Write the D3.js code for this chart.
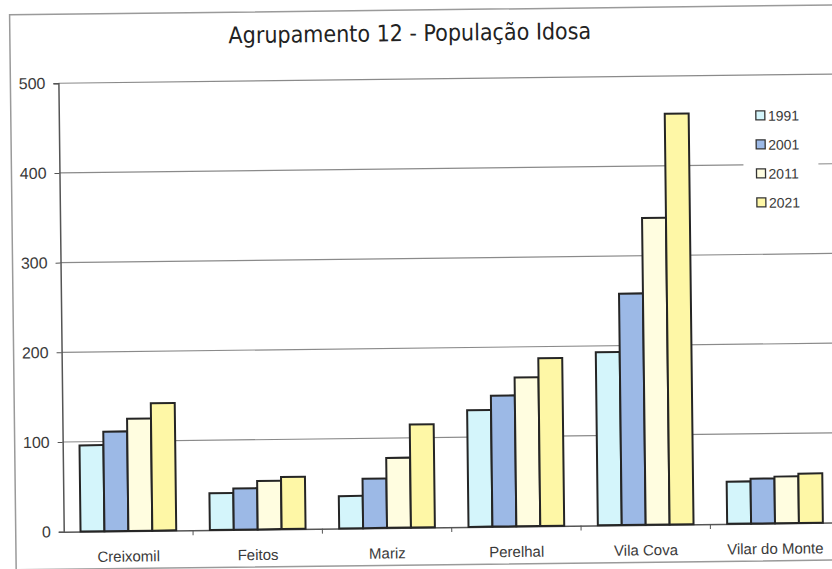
<!DOCTYPE html>
<html lang="pt">
<head>
<meta charset="UTF-8">
<title>Agrupamento 12 - População Idosa</title>
<script src="https://d3js.org/d3.v7.min.js"></script>
<style>
  body { margin: 0; padding: 0; background: #fff; }
  svg { display: block; }
  .grid line { stroke: #8a8a8a; stroke-width: 1.2px; }
  .bar { stroke: #252525; stroke-width: 2px; }
  .ylab, .xlab { font-family: "Liberation Sans", Arial, sans-serif; fill: #3a3a3a; }
</style>
</head>
<body>
<svg id="chart" width="832" height="569"></svg>
<script>
const categories = ["Creixomil", "Feitos", "Mariz", "Perelhal", "Vila Cova", "Vilar do Monte"];
const years = ["1991", "2001", "2011", "2021"];
const v1991 = [96, 41, 36, 130, 193, 47];
const v2001 = [111, 46, 55, 146, 258, 50];
const v2011 = [125, 54, 78, 166, 342, 52];
const v2021 = [142, 58, 115, 187, 458, 55];
const yTicks = [0, 100, 200, 300, 400, 500];
const colors = ["#d4f5fb", "#9cb9e6", "#fffde0", "#fef7a6"];

const series = [v1991, v2001, v2011, v2021];
const data = categories.map((c, i) => ({
  cat: c,
  values: years.map((y, j) => ({ year: y, value: series[j][i] }))
}));

const plot = { left: 61, right: 837, top: 79, bottom: 527.5 };

const svg = d3.select("#chart");
// the scan is slightly tilted
const g = svg.append("g").attr("transform", "rotate(-0.68, 416, 300)");

// outer chart border
g.append("rect")
  .attr("x", 13).attr("y", 10)
  .attr("width", 900).attr("height", 555)
  .attr("fill", "none")
  .attr("stroke", "#9a9a9a")
  .attr("stroke-width", 1.5);

g.append("text")
  .attr("x", 413).attr("y", 41)
  .attr("text-anchor", "middle")
  .style("font-family", "'DejaVu Sans Condensed', 'DejaVu Sans', sans-serif")
  .style("font-size", "23px")
  .style("fill", "#222")
  .text("Agrupamento 12 - População Idosa");

const y = d3.scaleLinear().domain([0, 500]).range([plot.bottom, plot.top]);
const x0 = d3.scaleBand().domain(categories).range([plot.left, plot.right]);
const bw = x0.bandwidth();
const x1 = d3.scaleBand().domain(years).range([bw * 0.13, bw * 0.87]);

// gridlines
g.append("g").attr("class", "grid")
  .selectAll("line")
  .data(yTicks.filter(d => d > 0))
  .join("line")
  .attr("x1", plot.left).attr("x2", 900)
  .attr("y1", d => y(d)).attr("y2", d => y(d));

// y axis
const yAxis = g.append("g")
  .attr("transform", `translate(${plot.left},0)`)
  .call(d3.axisLeft(y).tickValues(yTicks).tickSize(5).tickPadding(8));
yAxis.select(".domain").attr("stroke", "#555").attr("stroke-width", 1.5);
yAxis.selectAll(".tick line").attr("stroke", "#555");
yAxis.selectAll("text").attr("class", "ylab").style("font-size", "16px").attr("fill", "#3a3a3a");

// x axis
const xAxis = g.append("g")
  .attr("transform", `translate(0,${plot.bottom})`)
  .call(d3.axisBottom(x0).tickSize(0).tickPadding(20));
xAxis.select(".domain").attr("stroke", "#555").attr("stroke-width", 1.5);
xAxis.selectAll("text").attr("class", "xlab").style("font-size", "15px").attr("fill", "#3a3a3a");
xAxis.selectAll(".sep")
  .data(categories.slice(1))
  .join("line")
  .attr("class", "sep")
  .attr("x1", d => x0(d)).attr("x2", d => x0(d))
  .attr("y1", 0).attr("y2", 5)
  .attr("stroke", "#555");

// bars
g.append("g")
  .selectAll("g")
  .data(data)
  .join("g")
  .attr("transform", d => `translate(${x0(d.cat)},0)`)
  .selectAll("rect")
  .data(d => d.values)
  .join("rect")
  .attr("class", "bar")
  .attr("x", d => x1(d.year))
  .attr("y", d => y(d.value))
  .attr("width", x1.bandwidth())
  .attr("height", d => y(0) - y(d.value))
  .attr("fill", (d, i) => colors[i]);

// legend
const legend = g.append("g").attr("transform", "translate(745,103)");
legend.append("rect")
  .attr("width", 75).attr("height", 125)
  .attr("fill", "#fff");
const items = legend.selectAll(".item")
  .data(years)
  .join("g")
  .attr("class", "item")
  .attr("transform", (d, i) => `translate(13,${17 + i * 29})`);
items.append("rect")
  .attr("x", 0).attr("y", -5)
  .attr("width", 9).attr("height", 9)
  .attr("fill", (d, i) => colors[i])
  .attr("stroke", "#333").attr("stroke-width", 1.3);
items.append("text")
  .attr("x", 12).attr("y", 5)
  .style("font-family", "'Liberation Sans', Arial, sans-serif")
  .style("font-size", "14px")
  .style("fill", "#3a3a3a")
  .text(d => d);
</script>
</body>
</html>
